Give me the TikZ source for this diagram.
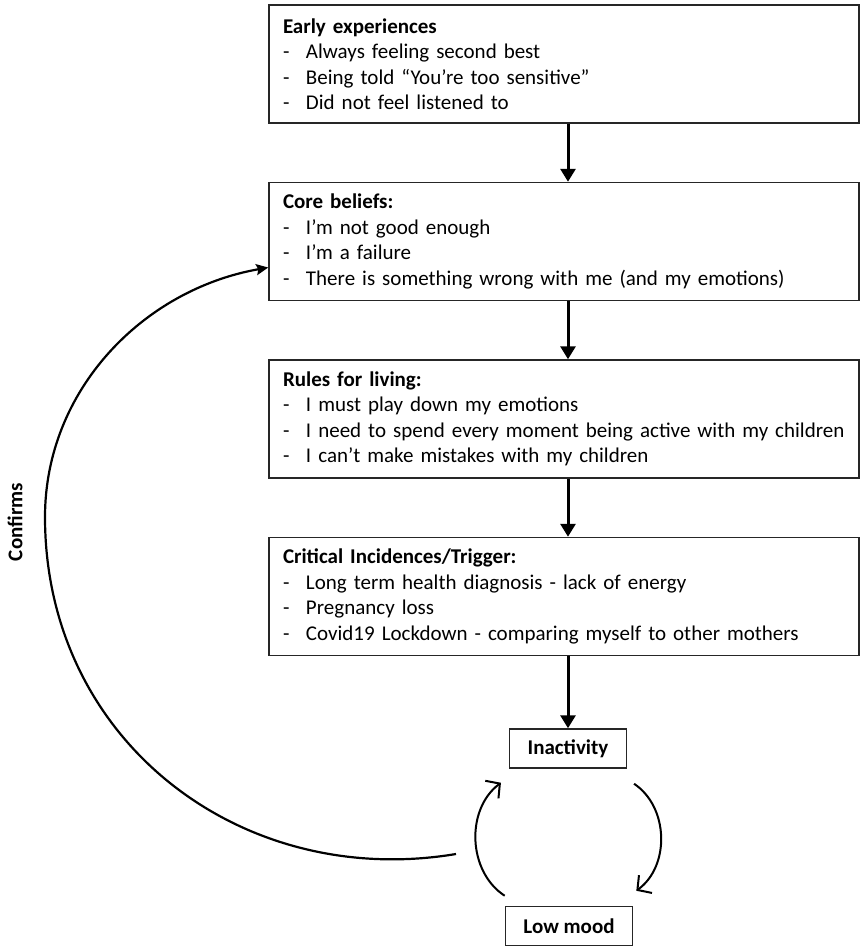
\documentclass[tikz,border=0pt]{standalone}
\usepackage{fontspec}
\setmainfont{Carlito}
\usepackage{tikz}
\usetikzlibrary{positioning,arrows.meta}
\newcommand{\hy}[1]{\mbox{\makebox[23pt][l]{-}#1}}

\begin{document}
\begin{tikzpicture}[every node/.style={node distance=58pt, font=\fontsize{21}{25.5}\selectfont},
    box/.style={draw=black!85, line width=1.5pt, rectangle, text width=562pt, inner xsep=14pt, minimum height=118pt, align=left},
    small/.style={draw=black!85, line width=1.5pt, rectangle, inner xsep=18pt, minimum height=39pt},
    flow/.style={line width=3pt, -{Triangle[length=13pt,width=15pt]}},
    cyc/.style={line width=2pt, -{Straight Barb[length=10pt,width=22pt]}},
    back/.style={line width=2.2pt, -{Stealth[length=12pt,width=11pt,inset=2pt]}}]

    \useasboundingbox (0,0) rectangle (860pt,-948pt);

    \node[box] (early) at (564pt,-64pt) {\textbf{Early experiences}\\
        \hy{Always feeling second best}\\
        \hy{Being told “You’re too sensitive”}\\
        \hy{Did not feel listened to}};
    \node[box, below=of early] (core) {\textbf{Core beliefs:}\\
        \hy{I’m not good enough}\\
        \hy{I’m a failure}\\
        \hy{There is something wrong with me (and my emotions)}};
    \node[box, below=of core] (rules) {\textbf{Rules for living:}\\
        \hy{I must play down my emotions}\\
        \hy{I need to spend every moment being active with my children}\\
        \hy{I can’t make mistakes with my children}};
    \node[box, below=of rules] (trigger) {\textbf{Critical Incidences/Trigger:}\\
        \hy{Long term health diagnosis - lack of energy}\\
        \hy{Pregnancy loss}\\
        \hy{Covid19 Lockdown - comparing myself to other mothers}};

    \node[small, below=72pt of trigger, xshift=4pt] (inact) {\textbf{Inactivity}};
    \node[small, below=137pt of inact, xshift=1pt] (low) {\textbf{Low mood}};

    \node[rotate=90] (conf) at (15pt,-522pt) {\textbf{Confirms}};
    \coordinate (backstart) at (456pt,-854pt);
    \coordinate (backleft) at (45pt,-517pt);

    \draw[flow] ([xshift=4pt]early.south) -- ([xshift=4pt]core.north);
    \draw[flow] ([xshift=4pt]core.south) -- ([xshift=4pt]rules.north);
    \draw[flow] ([xshift=4pt]rules.south) -- ([xshift=4pt]trigger.north);
    \draw[flow] ([xshift=4pt]trigger.south) -- (inact);

    \draw[cyc] ([shift={(7pt,-15pt)}]inact.south east) to[bend left=55] ([shift={(3pt,15pt)}]low.north east);
    \draw[cyc] ([shift={(0pt,10pt)}]low.north west) to[bend left=55] ([shift={(-8pt,-14pt)}]inact.south west);

    \draw[back] (backstart) .. controls +(-216pt,-36pt) and +(0pt,-223pt) .. (backleft)
        .. controls +(0pt,127pt) and +(-125pt,-22pt) .. ([yshift=-26pt]core.west);
\end{tikzpicture}
\end{document}
